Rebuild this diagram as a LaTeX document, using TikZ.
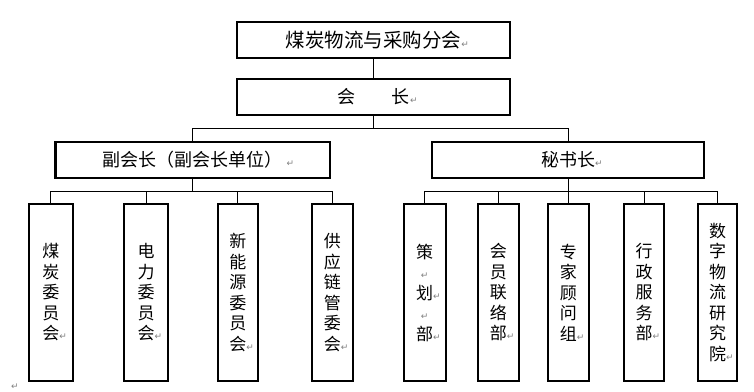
\documentclass[tikz,border=0pt]{standalone}
\usepackage{fontspec}
\setmainfont{Noto Sans CJK SC}
\newfontfamily\djv{DejaVu Sans}
\newcommand{\pmk}{{\djv\fontsize{9}{9}\selectfont\color{gray}↵}}
\newcommand{\pmkr}{\rlap{\pmk}}
\begin{document}
\begin{tikzpicture}[x=1pt,y=-1pt,
  box/.style={draw, line width=2.2pt, inner sep=0pt, fill=white},
  hbox/.style={box, minimum height=36pt},
  vbox/.style={box, minimum height=177.4pt, align=center, font=\fontsize{17}{20.5}\selectfont},
  conn/.style={line width=0.9pt, black}]
\useasboundingbox (0,0) rectangle (754,391);
% top levels
\node[hbox, minimum width=272.8pt, font=\fontsize{19.5}{22}\selectfont] (top) at (373.5,40) {煤炭物流与采购分会\pmkr};
\node[hbox, minimum width=272.8pt, font=\fontsize{18}{20}\selectfont] (chair) at (373.5,97) {会\hspace{37pt}长\pmkr};
\node[hbox, minimum width=274.3pt, font=\fontsize{18}{20}\selectfont] (vice) at (192.7,160) {副会长（副会长单位）\rlap{\hspace{4pt}\pmk}};
\node[hbox, minimum width=272.1pt, font=\fontsize{18}{20}\selectfont] (sec) at (568,160) {秘书长\pmkr};
% left children
\node[vbox, minimum width=44.1pt] (l1) at (50.85,292.5) {煤\\炭\\委\\员\\会\pmkr};
\node[vbox, minimum width=44.4pt] (l2) at (146,292.5) {电\\力\\委\\员\\会\pmkr};
\node[vbox, minimum width=40.1pt] (l3) at (237.85,292.5) {新\\能\\源\\委\\员\\会\pmkr};
\node[vbox, minimum width=41.1pt] (l4) at (332.35,292.5) {供\\应\\链\\管\\委\\会\pmkr};
% right children
\node[vbox, minimum width=41.8pt] (r1) at (424.7,292.5) {策\\\pmk\\划\pmkr\\\pmk\\部\pmkr};
\node[vbox, minimum width=41.1pt] (r2) at (498.35,292.5) {会\\员\\联\\络\\部\pmkr};
\node[vbox, minimum width=41.1pt] (r3) at (568.35,292.5) {专\\家\\顾\\问\\组\pmkr};
\node[vbox, minimum width=39.8pt] (r4) at (644,292.5) {行\\政\\服\\务\\部\pmkr};
\node[vbox, minimum width=38.8pt] (r5) at (717.5,292.5) {数\\字\\物\\流\\研\\究\\院\pmkr};
\node[inner sep=0pt] (endmark) at (15,387) {\pmk};
% buses
\coordinate (bus1) at (0,128);
\coordinate (busL) at (0,191);
\coordinate (busR) at (0,191);
% connectors
\draw[conn] (top.south) -- (chair.north);
\draw[conn] (chair.south) -- (chair.south |- bus1);
\draw[conn] (vice.north) -- (vice.north |- bus1) -- (sec.north |- bus1) -- (sec.north);
\draw[conn] (vice.south) -- (vice.south |- busL);
\draw[conn] (l1.north) -- (l1.north |- busL) -- (l4.north |- busL) -- (l4.north);
\draw[conn] (l2.north) -- (l2.north |- busL);
\draw[conn] (l3.north) -- (l3.north |- busL);
\draw[conn] (sec.south) -- (sec.south |- busR);
\draw[conn] (r1.north) -- (r1.north |- busR) -- (r5.north |- busR) -- (r5.north);
\draw[conn] (r2.north) -- (r2.north |- busR);
\draw[conn] (r3.north) -- (r3.north |- busR);
\draw[conn] (r4.north) -- (r4.north |- busR);
\end{tikzpicture}
\end{document}
